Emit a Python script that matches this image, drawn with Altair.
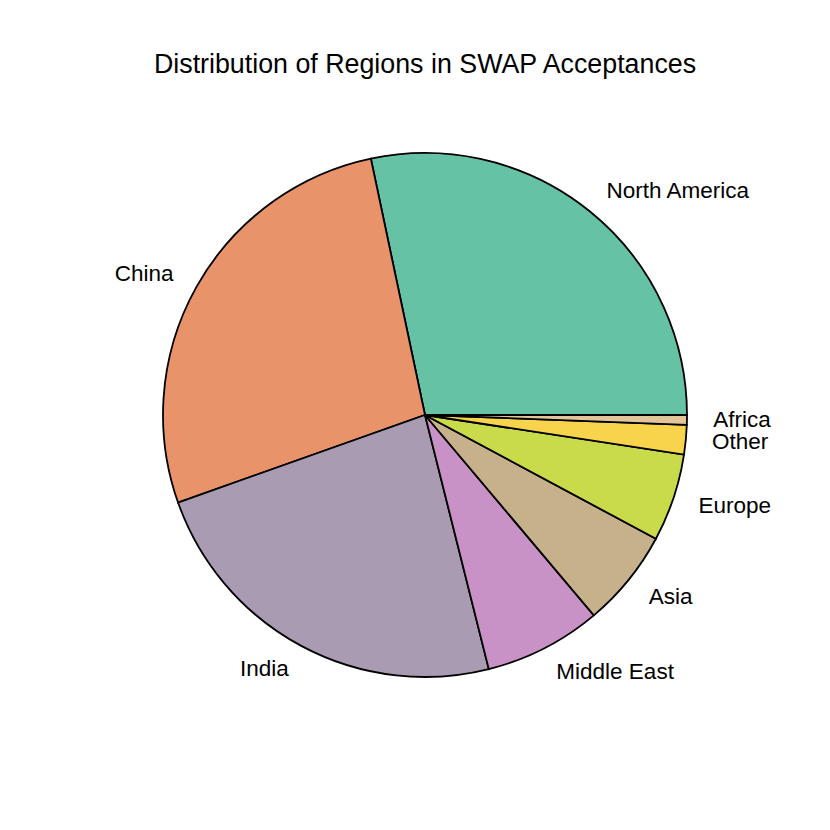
import altair as alt
import pandas as pd

regions = ["North America", "China", "India", "Middle East", "Asia", "Europe", "Other", "Africa"]
counts = [47, 45, 39, 12, 10, 9, 3, 1]
colors = ["#66C2A5", "#E9936B", "#A99BB1", "#C892C6", "#C6B18B", "#C9DB4B", "#F8D44C", "#E2C59A"]
sides = ["left", "right", "right", "left", "left", "left", "left", "left"]

df = pd.DataFrame({"region": regions, "count": counts, "order": list(range(len(regions))), "side": sides})

total = sum(counts)
CX, CY = 417, 327
R = 262

theta_scale = alt.Scale(domain=[0, total], range=[1.5707963, 1.5707963 - 6.2831853])

base = alt.Chart(df).transform_window(
    cum="sum(count)", sort=[alt.SortField("order")]
).transform_calculate(
    start="datum.cum - datum.count",
    mid="datum.cum - datum.count / 2",
)

arcs = base.mark_arc(stroke="black", strokeWidth=1.8, radius=R).encode(
    theta=alt.Theta("start:Q", scale=theta_scale, stack=None),
    theta2="cum:Q",
    color=alt.Color("region:N", scale=alt.Scale(domain=regions, range=colors), legend=None),
    x=alt.value(CX),
    y=alt.value(CY),
)

def labels(side):
    return base.transform_filter(alt.datum.side == side).mark_text(
        align=side, baseline="middle", font="Liberation Sans", fontSize=22.5, color="black",
        radius=R * 1.1,
    ).encode(
        theta=alt.Theta("mid:Q", scale=theta_scale, stack=None),
        text="region:N",
        x=alt.value(CX),
        y=alt.value(CY),
    )

chart = alt.layer(arcs, labels("left"), labels("right")).properties(
    width=814,
    height=734,
    autosize="none",
    padding={"top": 80, "left": 0, "right": 0, "bottom": 0},
    title=alt.Title(
        "Distribution of Regions in SWAP Acceptances",
        font="Liberation Sans", fontSize=26.8, fontWeight="normal", color="black",
        anchor="middle", baseline="middle", offset=23, dx=10, dy=27,
    ),
).configure_view(stroke=None)

chart.save("out.html", embed_options={"renderer": "svg", "actions": False})
